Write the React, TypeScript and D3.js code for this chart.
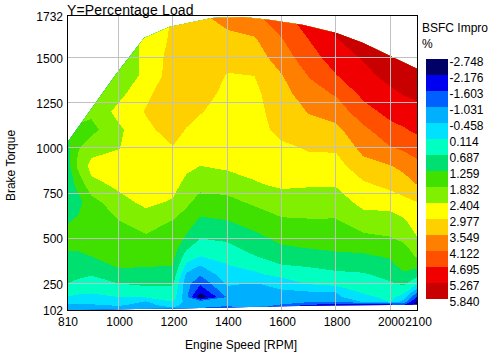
import React from "react";
import * as d3 from "d3";

// Engine speed columns (RPM) and brake torque rows (bottom to top)
const speeds = [810, 850, 900, 1000, 1100, 1200, 1250, 1300, 1400, 1500, 1600, 1700, 1800, 1900, 2000, 2050, 2100];
const torques = [102, 115, 130, 150, 175, 200, 250, 300, 350, 400, 450, 500, 600, 700, 800, 900, 1000, 1100, 1200, 1300, 1400, 1500, 1600, 1732];

// BSFC improvement (%) for each speed, one value per torque row
const bsfc810 = [-0.8, -0.74, -0.57, -0.23, 0.09, 0.34, 0.69, 0.86, 1.03, 1.15, 1.32, 1.49, 1.2, 0.97, 0.92, 0.97, 1.09, 1.26, 1.26, 1.26, 1.26, 1.26, 1.26, 1.26];
const bsfc850 = [-0.8, -0.74, -0.54, -0.23, 0.0, 0.2, 0.6, 0.77, 1.0, 1.17, 1.32, 1.49, 1.32, 1.09, 1.43, 1.95, 1.77, 1.77, 1.95, 2.0, 2.0, 2.0, 2.0, 2.0];
const bsfc900 = [-0.74, -0.74, -0.52, -0.29, -0.11, 0.17, 0.46, 0.72, 0.97, 1.26, 1.37, 1.49, 1.6, 1.6, 2.26, 2.58, 2.18, 1.66, 1.95, 2.12, 2.12, 2.12, 2.12, 2.12];
const bsfc1000 = [-0.69, -0.69, -0.4, -0.11, 0.11, 0.37, 0.69, 1.03, 1.35, 1.43, 1.52, 1.6, 1.83, 2.23, 2.52, 2.69, 2.38, 2.29, 2.58, 2.23, 2.0, 2.0, 2.0, 2.0];
const bsfc1100 = [-0.74, -0.74, -0.63, -0.49, 0.17, 0.46, 0.77, 1.12, 1.29, 1.43, 1.58, 1.72, 2.18, 2.52, 2.66, 2.75, 2.81, 2.86, 3.01, 2.86, 2.55, 2.55, 2.55, 2.58];
const bsfc1200 = [-0.69, -0.49, -0.23, 0.14, 0.4, 0.52, 0.74, 1.03, 1.26, 1.4, 1.55, 1.66, 1.83, 2.35, 2.58, 2.75, 2.95, 3.18, 3.29, 3.32, 3.26, 3.21, 3.09, 3.01];
const bsfc1250 = [-0.69, -0.69, -0.69, -0.69, -0.86, -0.86, -0.8, -0.57, -0.03, 0.4, 0.8, 1.15, 1.58, 1.95, 2.26, 2.52, 2.78, 2.95, 3.15, 3.26, 3.26, 3.26, 3.29, 3.32];
const bsfc1300 = [-0.74, -1.03, -0.74, -0.74, -2.69, -2.12, -1.49, -0.97, -0.46, 0.11, 0.4, 0.69, 1.17, 1.6, 2.03, 2.4, 2.6, 2.81, 3.01, 3.21, 3.26, 3.32, 3.38, 3.49];
const bsfc1400 = [-0.74, -1.72, -0.74, -0.69, -0.97, -0.69, -0.37, -0.09, 0.09, 0.23, 0.57, 0.77, 1.26, 1.69, 2.06, 2.52, 2.63, 2.69, 2.75, 2.83, 2.95, 3.12, 3.43, 3.72];
const bsfc1500 = [-0.74, -0.74, -0.69, -0.63, -0.6, -0.57, -0.49, 0.0, 0.34, 0.66, 0.89, 1.09, 1.52, 1.92, 2.35, 2.6, 2.69, 2.75, 2.81, 2.86, 2.98, 3.26, 3.49, 4.01];
const bsfc1600 = [-1.89, -1.89, -1.15, -0.69, -0.63, -0.57, -0.23, 0.31, 0.66, 0.94, 1.2, 1.4, 1.78, 2.09, 2.52, 2.75, 2.86, 3.15, 3.23, 3.32, 3.52, 3.84, 4.09, 4.52];
const bsfc1700 = [-1.89, -1.89, -1.72, -0.92, -0.57, -0.54, 0.17, 0.46, 0.74, 1.03, 1.29, 1.46, 1.8, 2.15, 2.46, 2.78, 3.03, 3.32, 3.58, 3.89, 4.15, 4.44, 4.7, 5.04];
const bsfc1800 = [-2.0, -2.0, -1.89, -1.03, -0.57, -0.46, 0.31, 0.57, 0.86, 1.15, 1.35, 1.49, 1.8, 2.12, 2.46, 2.75, 3.06, 3.41, 3.78, 4.18, 4.67, 4.98, 5.24, 5.61];
const bsfc1900 = [-2.06, -2.06, -2.0, -0.4, -0.06, 0.17, 0.4, 0.63, 0.92, 1.17, 1.43, 1.69, 2.15, 2.58, 2.89, 3.35, 3.72, 3.98, 4.47, 4.84, 5.1, 5.32, 5.55, 5.84];
const bsfc2000 = [-2.18, -2.18, -2.12, 0.14, 0.29, 0.4, 0.63, 0.86, 1.09, 1.32, 1.58, 1.8, 2.15, 2.66, 3.15, 3.52, 4.09, 4.52, 4.87, 5.15, 5.44, 5.73, 5.84, 5.84];
const bsfc2050 = [-2.18, -2.18, -1.6, -0.69, -0.17, 0.23, 0.8, 1.15, 1.49, 1.58, 1.72, 1.95, 2.35, 2.83, 3.29, 3.72, 4.21, 4.64, 4.98, 5.3, 5.55, 5.84, 5.84, 5.84];
const bsfc2100 = [-2.58, -2.58, -2.58, -2.4, -1.75, -1.03, 0.17, 0.86, 1.43, 1.89, 2.09, 2.38, 2.69, 2.98, 3.58, 3.95, 4.41, 4.81, 5.1, 5.38, 5.7, 5.84, 5.84, 5.84];
const bsfcColumns = [bsfc810, bsfc850, bsfc900, bsfc1000, bsfc1100, bsfc1200, bsfc1250, bsfc1300, bsfc1400, bsfc1500, bsfc1600, bsfc1700, bsfc1800, bsfc1900, bsfc2000, bsfc2050, bsfc2100];

// Limits of the mapped region
const upperSpeed = [810, 994, 1094, 1186, 1344, 1459, 1558, 1680, 1801, 1900, 1999, 2100];
const upperTorque = [1027, 1414, 1608, 1669, 1719, 1724, 1708, 1680, 1636, 1580, 1509, 1436];
const lowerSpeed = [810, 1000, 1200, 1300, 1400, 1600, 1800, 2000, 2100];
const lowerTorque = [102, 108, 112, 115, 117, 124, 128, 131, 133];

// Legend
const legendLevels = [-2.748, -2.176, -1.603, -1.031, -0.458, 0.114, 0.687, 1.259, 1.832, 2.404, 2.977, 3.549, 4.122, 4.695, 5.267, 5.84];
const legendLabels = ["-2.748", "-2.176", "-1.603", "-1.031", "-0.458", "0.114", "0.687", "1.259", "1.832", "2.404", "2.977", "3.549", "4.122", "4.695", "5.267", "5.840"];
const bandColors = ["#000066", "#0000f0", "#0060ff", "#00b0ff", "#00e0ff", "#00ffc0", "#00e070", "#40e000", "#80f000", "#ffff00", "#ffd000", "#ff8000", "#ff5000", "#f00000", "#c80000"];

const xTicks = [810, 1000, 1200, 1400, 1600, 1800, 2000, 2100];
const yTicks = [102, 250, 500, 750, 1000, 1250, 1500, 1732];

const x = d3.scaleLinear().domain([810, 2100]).range([67, 417.5]);
const y = d3.scaleLinear().domain([102, 1732]).range([310.3, 15.6]);
const legendY = d3.scaleLinear().domain([-2.748, 5.84]).range([59, 299]);

const colIndexToSpeed = d3.scaleLinear().domain(d3.range(speeds.length)).range(speeds).clamp(true);
const rowIndexToTorque = d3.scaleLinear().domain(d3.range(torques.length)).range(torques).clamp(true);

const flat: number[] = [];
torques.forEach((_, r) => speeds.forEach((_, c) => flat.push(bsfcColumns[c][r])));

const contourGen = d3.contours().size([speeds.length, torques.length]).thresholds(legendLevels.slice(0, -1));
const bands = contourGen(flat);

const ringLine = d3
  .line<number[]>()
  .x((p) => x(colIndexToSpeed(p[0] - 0.5)))
  .y((p) => y(rowIndexToTorque(p[1] - 0.5)));

const bandPath = (g: any) =>
  g.coordinates.map((poly: number[][][]) => poly.map((ring) => ringLine(ring) + "Z").join("")).join("");

const outline: [number, number][] = [
  ...upperSpeed.map((s, i) => [s, upperTorque[i]] as [number, number]),
  ...lowerSpeed.map((s, i) => [s, lowerTorque[i]] as [number, number]).reverse(),
];
const outlinePath =
  d3
    .line<[number, number]>()
    .x((p) => x(p[0]))
    .y((p) => y(p[1]))(outline) + "Z";

const font = "'Liberation Sans', Arial, sans-serif";

export default function App() {
  return (
    <svg
      width={488}
      height={354}
      style={{ position: "absolute", left: 0, top: 0, background: "#fff" }}
      fontFamily={font}
    >
      <defs>
        <clipPath id="region">
          <path d={outlinePath} />
        </clipPath>
      </defs>
      <g clipPath="url(#region)">
        {bands.map((b, i) => (
          <path key={i} d={bandPath(b)} fill={bandColors[i]} fillRule="evenodd" shapeRendering="crispEdges" />
        ))}
      </g>
      {xTicks.slice(1, -1).map((t) => (
        <line key={t} x1={x(t)} x2={x(t)} y1={y(1732)} y2={y(102)} stroke="#c0c0c0" strokeWidth={1} shapeRendering="crispEdges" />
      ))}
      {yTicks.slice(1, -1).map((t) => (
        <line key={t} x1={x(810)} x2={x(2100)} y1={y(t)} y2={y(t)} stroke="#c0c0c0" strokeWidth={1} shapeRendering="crispEdges" />
      ))}
      <rect x={x(810)} y={y(1732)} width={x(2100) - x(810)} height={y(102) - y(1732)} fill="none" stroke="#000" strokeWidth={1} shapeRendering="crispEdges" />
      {xTicks.map((t) => (
        <text key={t} x={x(t) + 1} y={326} textAnchor="middle" fontSize={12} fill="#000">
          {t}
        </text>
      ))}
      {yTicks.map((t) => (
        <text key={t} x={63} y={y(t) + 5} textAnchor="end" fontSize={12} fill="#000">
          {t}
        </text>
      ))}
      <text x={241} y={349} textAnchor="middle" fontSize={12} fill="#000">
        Engine Speed [RPM]
      </text>
      <text transform="translate(15,165.5) rotate(-90)" textAnchor="middle" fontSize={12} fill="#000">
        Brake Torque
      </text>
      <text x={67} y={15} fontSize={14} letterSpacing={0.15} fill="#000">
        Y=Percentage Load
      </text>
      <text x={422} y={32} fontSize={12} fill="#000">
        BSFC Impro
      </text>
      <text x={422} y={48} fontSize={12} fill="#000">
        %
      </text>
      {bandColors.map((c, i) => (
        <rect key={c} x={426} y={legendY(legendLevels[i])} width={22} height={legendY(legendLevels[i + 1]) - legendY(legendLevels[i])} fill={c} shapeRendering="crispEdges" />
      ))}
      {legendLabels.map((l, i) => (
        <text key={l} x={449.5} y={legendY(legendLevels[i]) + 7} fontSize={12} fill="#000">
          {l}
        </text>
      ))}
    </svg>
  );
}
